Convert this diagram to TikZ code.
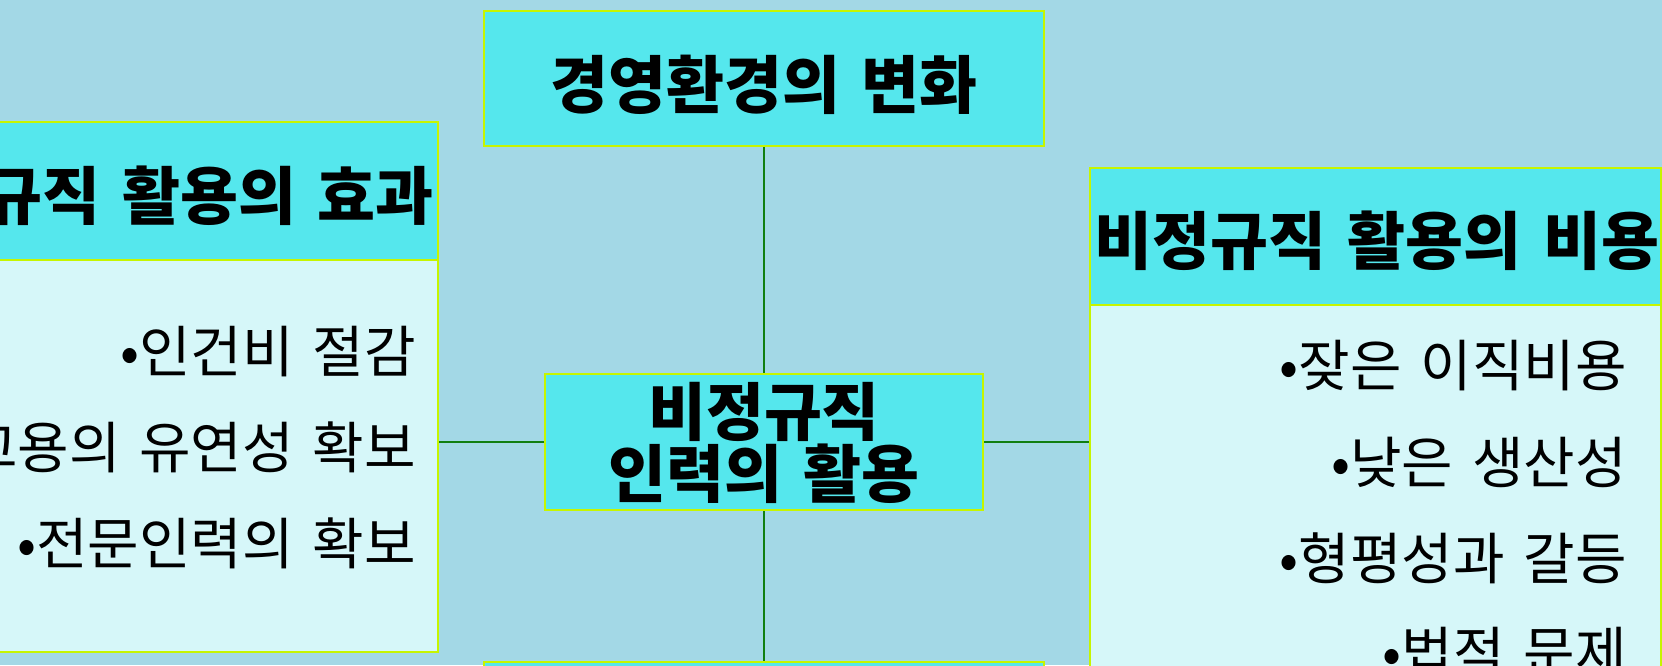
\documentclass[tikz,border=0pt]{standalone}
\usepackage{fontspec}
\newfontfamily\kr{Noto Sans CJK KR}[WordSpace=1.5]
\definecolor{bg}{HTML}{A3D8E6}
\definecolor{cyanbox}{HTML}{55E7ED}
\definecolor{lightbox}{HTML}{D6F7F9}
\definecolor{bordergreen}{HTML}{C6F500}
\definecolor{conn}{HTML}{117F11}
\tikzset{
  box/.style={draw=bordergreen, line width=2pt, fill=cyanbox, rectangle, inner sep=0pt},
  bodybox/.style={draw=bordergreen, line width=2pt, fill=lightbox, rectangle, inner sep=0pt},
  boldtxt/.style={font=\kr\bfseries\fontsize{63}{62}\selectfont, inner sep=0pt, align=center, text=black},
  bodytxt/.style={font=\kr\fontsize{56}{60}\selectfont, inner sep=0pt, anchor=east, text=black},
  conline/.style={draw=conn, line width=2.5pt}
}
\begin{document}
\begin{tikzpicture}[x=1pt,y=-1pt]
\useasboundingbox (0,0) rectangle (1662,665);
\clip (0,0) rectangle (1662,665);
\fill[bg] (0,0) rectangle (1662,665);
% boxes
\node[box, minimum width=560pt, minimum height=135pt] (top) at (764,78.5) {};
\node[box, minimum width=438pt, minimum height=136pt] (center) at (764,442) {};
\node[box, minimum width=560pt, minimum height=138pt] (bottom) at (764,731) {};
\node[box, minimum width=571pt, minimum height=138pt] (lhead) at (152.5,191) {};
\node[bodybox, minimum width=571pt, minimum height=392pt] (lbody) at (152.5,456) {};
\node[box, minimum width=571pt, minimum height=137pt] (rhead) at (1375.5,236.5) {};
\node[bodybox, minimum width=571pt, minimum height=495pt] (rbody) at (1375.5,552.5) {};
% connectors
\draw[conline] (top.south) -- (center.north);
\draw[conline] (center.south) -- (bottom.north);
\draw[conline] (center.west) -- (center.west -| lbody.east);
\draw[conline] (center.east) -- (center.east -| rbody.west);
% texts
\node[boldtxt] (ttop) at (764,85) {경영환경의 변화};
\node[boldtxt] (tcenter) at (764,443) {비정규직\\인력의 활용};
\node[boldtxt, anchor=east] (tlhead) at (434,196) {비정규직 활용의 효과};
\node[boldtxt, anchor=west] (trhead) at (1094,241) {비정규직 활용의 비용};
\node[bodytxt] (l1) at (416,352) {•인건비 절감};
\node[bodytxt] (l2) at (416,447) {•고용의 유연성 확보};
\node[bodytxt] (l3) at (416,543) {•전문인력의 확보};
\node[bodytxt] (r1) at (1627,366) {•잦은 이직비용};
\node[bodytxt] (r2) at (1627,462) {•낮은 생산성};
\node[bodytxt] (r3) at (1627,558) {•형평성과 갈등};
\node[bodytxt] (r4) at (1627,653) {•법적 문제};
\end{tikzpicture}
\end{document}
